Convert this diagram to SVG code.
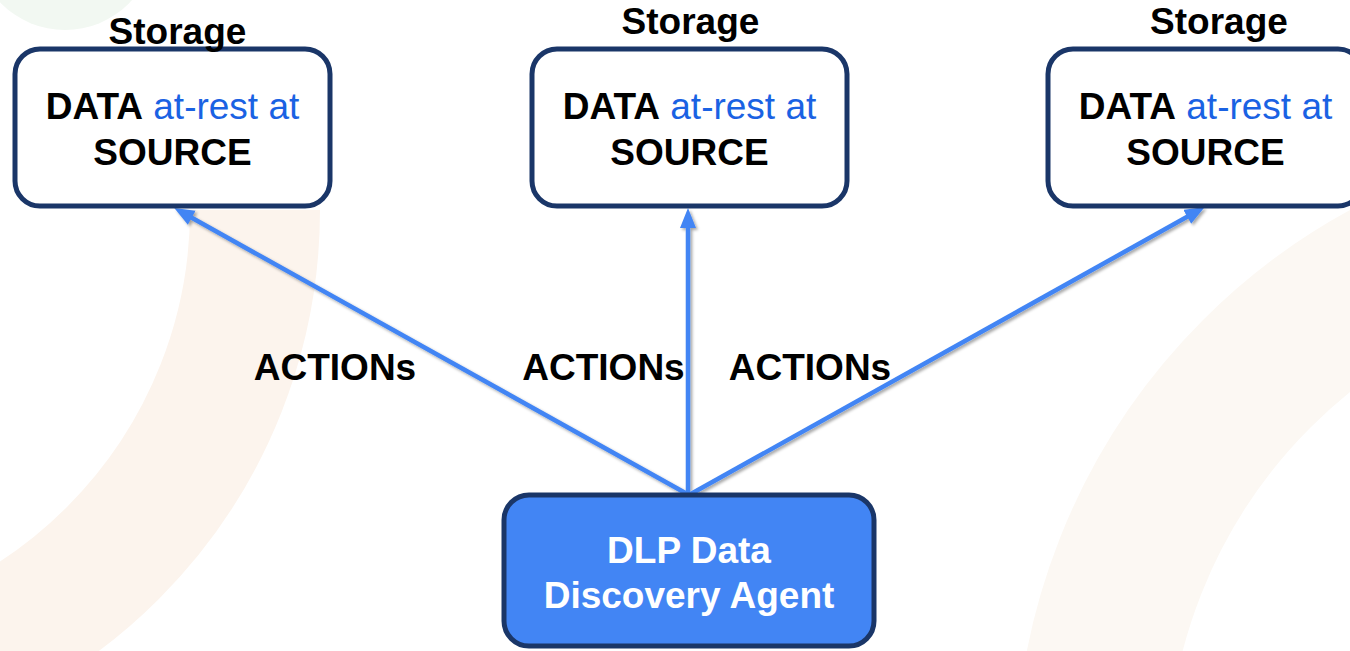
<svg xmlns="http://www.w3.org/2000/svg" width="1350" height="651" viewBox="0 0 1350 651">
<defs>
<style>
.box{fill:#ffffff;stroke:#1a3668;stroke-width:5}
.agent{fill:#4285f4;stroke:#1a3668;stroke-width:5}
.t{font-family:"Liberation Sans",Arial,sans-serif;font-size:37px;text-anchor:middle}
.b{font-weight:bold;fill:#000}
.blue{font-weight:normal;fill:#1a62e3}
.w{font-weight:bold;fill:#ffffff}
.conn{stroke:#4285f4;stroke-width:4.5;fill:none;marker-end:url(#ah)}
</style>
<marker id="ah" markerUnits="userSpaceOnUse" markerWidth="22" markerHeight="18" refX="2" refY="8" orient="auto">
<path d="M0,0 L20,8 L0,16 z" fill="#4285f4"/>
</marker>
<filter id="sh" x="-10%" y="-10%" width="120%" height="120%">
<feDropShadow dx="2" dy="2" stdDeviation="1.5" flood-color="#000" flood-opacity="0.35"/>
</filter>
</defs>
<rect width="1350" height="651" fill="#ffffff"/>
<g id="background">
<circle cx="65" cy="-60" r="90" fill="#f2f8f2"/>
<path d="M255,210 A485,485 0 0 1 -230,695" fill="none" stroke="#fcf4ed" stroke-width="130"/>
<circle cx="1657" cy="774" r="566" fill="none" stroke="#fcf8f3" stroke-width="152"/>
</g>
<g id="connectors" filter="url(#sh)">
<line class="conn" x1="689" y1="495" x2="190" y2="216.8"/>
<line class="conn" x1="688" y1="495" x2="688" y2="226"/>
<line class="conn" x1="689" y1="495" x2="1189" y2="215.8"/>
</g>
<g id="labels">
<text class="t b" x="335" y="380">ACTIONs</text>
<text class="t b" x="603.5" y="380">ACTIONs</text>
<text class="t b" x="810" y="380">ACTIONs</text>
</g>
<g id="storage-left">
<rect class="box" x="15" y="49" width="315" height="157" rx="25"/>
<text class="t b" x="177.5" y="44">Storage</text>
<text class="t" x="172.5" y="119"><tspan class="b">DATA</tspan><tspan class="blue"> at-rest at</tspan></text>
<text class="t b" x="172.5" y="165">SOURCE</text>
</g>
<g id="storage-middle">
<rect class="box" x="532" y="49" width="315" height="157" rx="25"/>
<text class="t b" x="690.5" y="34">Storage</text>
<text class="t" x="689.5" y="119"><tspan class="b">DATA</tspan><tspan class="blue"> at-rest at</tspan></text>
<text class="t b" x="689.5" y="165">SOURCE</text>
</g>
<g id="storage-right">
<rect class="box" x="1048" y="49" width="315" height="157" rx="25"/>
<text class="t b" x="1219" y="34">Storage</text>
<text class="t" x="1205.5" y="119"><tspan class="b">DATA</tspan><tspan class="blue"> at-rest at</tspan></text>
<text class="t b" x="1205.5" y="165">SOURCE</text>
</g>
<g id="agent">
<rect class="agent" x="504" y="495" width="370" height="151" rx="25"/>
<text class="t w" x="689" y="563">DLP Data</text>
<text class="t w" x="689" y="608">Discovery Agent</text>
</g>
</svg>
